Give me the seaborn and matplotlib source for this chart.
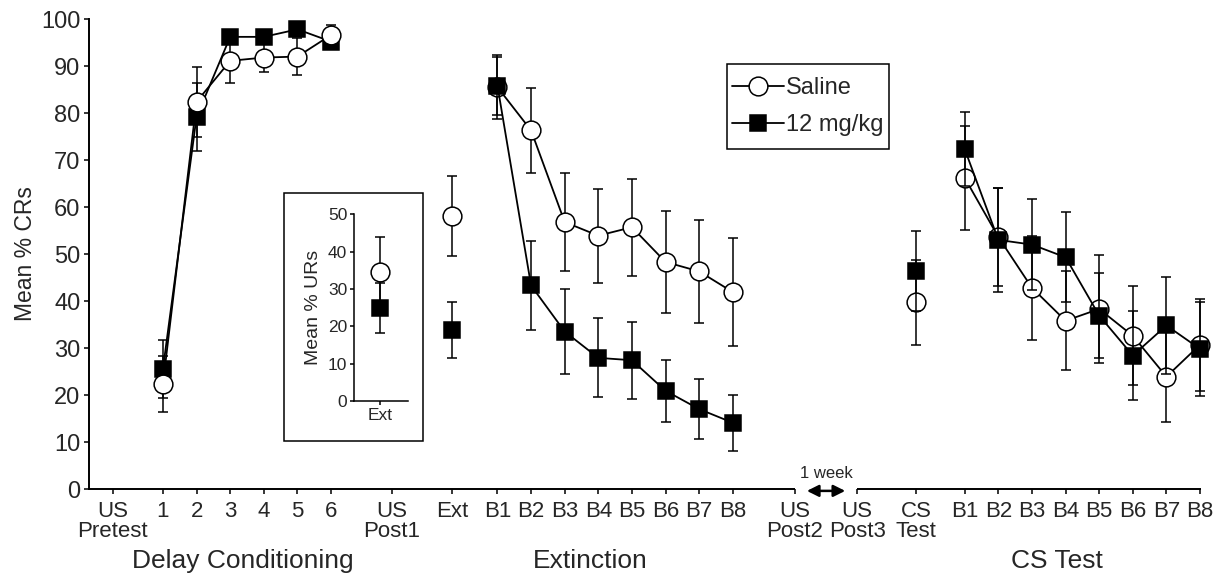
import numpy as np
import matplotlib
matplotlib.use("Agg")
import matplotlib.pyplot as plt
from matplotlib.lines import Line2D
from matplotlib.patches import Rectangle
import seaborn as sns

# x tick labels
day_labels = ["1", "2", "3", "4", "5", "6"]
block_labels = ["B1", "B2", "B3", "B4", "B5", "B6", "B7", "B8"]

# Delay conditioning, days 1-6 (mean % CRs and SEM)
cond_saline = [22.4, 82.4, 91.1, 91.8, 92.0, 96.6]
cond_saline_sem = [6.0, 7.4, 4.7, 3.0, 4.0, 2.1]
cond_drug = [25.6, 79.2, 96.2, 96.2, 97.8, 95.2]
cond_drug_sem = [6.2, 7.2, 1.0, 1.0, 1.2, 1.2]

# Ext session
ext_saline = [58.1]
ext_saline_sem = [8.5]
ext_drug = [33.8]
ext_drug_sem = [6.0]

# Extinction blocks B1-B8
extb_saline = [85.5, 76.3, 56.8, 53.9, 55.7, 48.3, 46.3, 41.9]
extb_saline_sem = [6.8, 9.0, 10.5, 10.0, 10.3, 10.8, 11.0, 11.5]
extb_drug = [85.8, 43.3, 33.5, 27.9, 27.4, 20.9, 17.0, 14.1]
extb_drug_sem = [6.2, 9.5, 9.0, 8.4, 8.2, 6.6, 6.3, 6.0]

# CS test session
cst_saline = [39.7]
cst_saline_sem = [9.0]
cst_drug = [46.3]
cst_drug_sem = [8.5]

# CS test blocks B1-B8
csb_saline = [66.2, 53.6, 42.8, 35.8, 38.3, 32.6, 23.9, 30.7]
csb_saline_sem = [11.0, 10.5, 11.0, 10.5, 11.4, 10.5, 9.6, 9.8]
csb_drug = [72.3, 53.0, 52.0, 49.3, 36.9, 28.4, 34.8, 29.8]
csb_drug_sem = [7.9, 11.0, 9.6, 9.6, 9.0, 9.4, 10.3, 10.0]

# inset: mean % URs during Ext
inset_saline = [34.6]
inset_saline_sem = [9.2]
inset_drug = [24.8]
inset_drug_sem = [6.7]

# positions along the x axis
x_pretest = 0.0
x_days = 1.5 + np.arange(len(day_labels))
x_post1 = 8.3
x_ext = np.array([10.1])
x_extb = 11.45 + np.arange(len(block_labels))
x_post2 = 20.3
x_post3 = 22.15
x_cst = np.array([23.9])
x_csb = 25.35 + np.arange(len(block_labels))
x_min, x_max = -0.70, 32.38

sns.set_style("ticks")
plt.rcParams['font.family'] = ['Liberation Sans', 'DejaVu Sans']
plt.rcParams['axes.linewidth'] = 1.4

saline_kw = dict(color='k', marker='o', markersize=13.5, markerfacecolor='white',
                 markeredgecolor='k', markeredgewidth=1.1, linewidth=1.3)
drug_kw = dict(color='k', marker='s', markersize=12, markerfacecolor='k',
               markeredgecolor='k', markeredgewidth=1.1, linewidth=1.3)


def draw(ax, x, y, err, style, z):
    ax.errorbar(x, y, yerr=err, fmt='none', ecolor='k', elinewidth=1.1,
                capsize=3.6, capthick=1.1, zorder=z - 0.5, clip_on=False)
    sns.lineplot(x=x, y=y, ax=ax, errorbar=None, zorder=z, clip_on=False, **style)


fig = plt.figure(figsize=(12.25, 5.76), dpi=100)
ax = fig.add_axes([0.07265, 0.15104, 0.9078, 0.81597])

# delay conditioning: saline drawn over drug
draw(ax, x_days, cond_drug, cond_drug_sem, drug_kw, 3)
draw(ax, x_days, cond_saline, cond_saline_sem, saline_kw, 4)
# later sessions: drug drawn over saline
for xs, s, se, d, de in [(x_ext, ext_saline, ext_saline_sem, ext_drug, ext_drug_sem),
                         (x_extb, extb_saline, extb_saline_sem, extb_drug, extb_drug_sem),
                         (x_cst, cst_saline, cst_saline_sem, cst_drug, cst_drug_sem),
                         (x_csb, csb_saline, csb_saline_sem, csb_drug, csb_drug_sem)]:
    draw(ax, xs, s, se, saline_kw, 3)
    draw(ax, xs, d, de, drug_kw, 4)

ticks = ([x_pretest] + list(x_days) + [x_post1] + list(x_ext) + list(x_extb)
         + [x_post2, x_post3] + list(x_cst) + list(x_csb))
labels = (["US\nPretest"] + day_labels + ["US\nPost1", "Ext"] + block_labels
          + ["US\nPost2", "US\nPost3", "CS\nTest"] + block_labels)
ax.set_xticks(ticks)
ax.set_xticklabels(labels, fontsize=16)
for lbl in ax.get_xticklabels():
    lbl.set_linespacing(0.95)
ax.set_xlim(x_min, x_max)
ax.set_ylim(0, 100)
ax.set_yticks(np.arange(0, 101, 10))
ax.tick_params(axis='y', labelsize=17, length=3.6, width=1.1, pad=2.5, color='k')
ax.tick_params(axis='x', length=3.6, width=1.1, pad=5, color='k')
ax.set_ylabel("Mean % CRs", fontsize=16.5, labelpad=3)
ax.set_xlabel("")

sns.despine(ax=ax)
ax.spines['bottom'].set_visible(False)
ax.spines['left'].set_color('k')
# broken x axis: gap of one week between US Post2 and US Post3
ax.plot([x_min, x_post2], [0, 0], color='k', lw=1.4, clip_on=False,
        solid_capstyle='butt', zorder=1)
ax.plot([x_post3, x_max], [0, 0], color='k', lw=1.4, clip_on=False,
        solid_capstyle='butt', zorder=1)
gap_mid = (x_post2 + x_post3) / 2
ax.annotate('', xy=(gap_mid + 0.57, -0.4), xytext=(gap_mid - 0.57, -0.4),
            arrowprops=dict(arrowstyle='<|-|>,head_length=0.5,head_width=0.25',
                            color='k', lw=1.8, mutation_scale=14,
                            shrinkA=0, shrinkB=0),
            annotation_clip=False)
ax.text(gap_mid, 3.2, "1 week", ha='center', va='center', fontsize=12)

# session names under the axis
trans = ax.get_xaxis_transform()
ax.text(3.88, -0.153, "Delay Conditioning", transform=trans, ha='center',
        va='center', fontsize=19)
ax.text(14.2, -0.153, "Extinction", transform=trans, ha='center',
        va='center', fontsize=19)
ax.text(28.1, -0.153, "CS Test", transform=trans, ha='center',
        va='center', fontsize=19)

# legend (frame drawn separately so the padding can differ per side)
handles = [Line2D([], [], **saline_kw), Line2D([], [], **drug_kw)]
ax.legend(handles, ["Saline", "12 mg/kg"], loc='center left',
          bbox_to_anchor=(731.7 / 1225, 1 - 106.5 / 576),
          bbox_transform=fig.transFigure, borderaxespad=0, borderpad=0,
          fontsize=17, frameon=False, handlelength=2.2, handletextpad=0.1,
          labelspacing=0.62)
fig.add_artist(Rectangle((727 / 1225, 1 - 149 / 576), 162 / 1225, 85 / 576,
                         transform=fig.transFigure, fill=False, edgecolor='k',
                         lw=1.1))

# inset box and inset axes
fig.add_artist(Rectangle((0.2318, 0.2344), 0.1135, 0.4306, transform=fig.transFigure,
                         fill=False, edgecolor='k', lw=1.1))
inax = fig.add_axes([0.2892, 0.3038, 0.0436, 0.3241])
draw(inax, [0], inset_saline, inset_saline_sem, saline_kw, 3)
draw(inax, [0], inset_drug, inset_drug_sem, drug_kw, 4)
inax.set_xlim(-1, 1.08)
inax.set_ylim(0, 50)
inax.set_yticks(np.arange(0, 51, 10))
inax.set_xticks([0])
inax.set_xticklabels(["Ext"])
inax.tick_params(labelsize=12.5, length=3, width=1.1, pad=2, color='k')
inax.set_ylabel("Mean % URs", fontsize=14, labelpad=4)
inax.set_xlabel("")
inax.patch.set_alpha(0)
sns.despine(ax=inax)
for sp in ['left', 'bottom']:
    inax.spines[sp].set_linewidth(1.1)
    inax.spines[sp].set_color('k')

fig.savefig("out.png", dpi=100)
